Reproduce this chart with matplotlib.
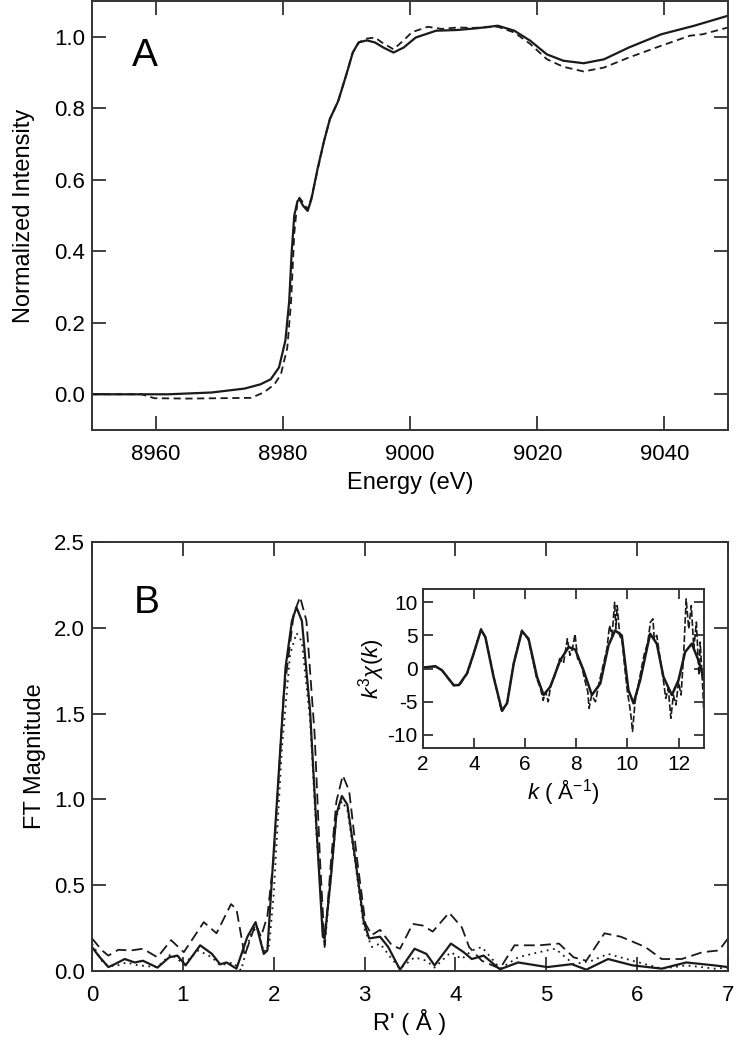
"""XANES edge (A) and EXAFS Fourier transform with k-space inset (B)."""

import matplotlib

matplotlib.use("Agg")
import matplotlib.pyplot as plt  # noqa: E402

plt.rcParams["font.family"] = ["Liberation Sans", "DejaVu Sans"]
plt.rcParams["mathtext.fontset"] = "custom"
plt.rcParams["mathtext.it"] = "Liberation Sans:italic"
plt.rcParams["mathtext.rm"] = "Liberation Sans"
plt.rcParams["axes.unicode_minus"] = False

# ---- panel A: normalized XANES ----
energy_solid = [8950, 8962, 8968.8, 8974, 8976.5, 8978.1, 8979.4, 8980.4, 8981, 8981.4,
                8981.8, 8982.3, 8982.6, 8983.2, 8983.9, 8984.5, 8985.5, 8986.5, 8987.4,
                8988.7, 8990, 8991, 8991.9, 8993.2, 8994.5, 8995.8, 8997.4, 8999, 9000.9,
                9004.1, 9007.4, 9010.6, 9013.8, 9016.4, 9018.9, 9021.5, 9024.1, 9027.3,
                9030.5, 9034.4, 9039.5, 9044.7, 9050]
int_solid = [0.0, 0.0, 0.005, 0.016, 0.028, 0.042, 0.075, 0.15, 0.26, 0.40,
             0.50, 0.54, 0.546, 0.527, 0.513, 0.546, 0.634, 0.71, 0.77,
             0.82, 0.895, 0.956, 0.984, 0.99, 0.984, 0.97, 0.956, 0.97, 0.998,
             1.017, 1.019, 1.024, 1.031, 1.017, 0.989, 0.951, 0.933, 0.926,
             0.937, 0.97, 1.007, 1.031, 1.059]

energy_dash = [8950, 8957.8, 8959.8, 8965, 8970, 8975, 8977, 8978.7, 8979.7, 8980.7,
               8981.3, 8981.8, 8982.3, 8982.6, 8983.2, 8983.9, 8984.5, 8985.5, 8986.5,
               8987.4, 8988.7, 8990, 8991, 8992, 8993.2, 8994.5, 8995.5, 8997.4, 8999,
               9000.3, 9002.8, 9005, 9007.4, 9010, 9013.8, 9016.4, 9018.9, 9021.5,
               9024.1, 9027.3, 9030.5, 9034.4, 9039.5, 9044, 9046, 9050]
int_dash = [0.0, 0.0, -0.011, -0.012, -0.011, -0.01, 0.005, 0.028, 0.056, 0.13,
            0.26, 0.45, 0.54, 0.55, 0.536, 0.517, 0.55, 0.63, 0.71,
            0.77, 0.82, 0.895, 0.956, 0.985, 0.995, 0.998, 0.985, 0.965, 0.99,
            1.013, 1.028, 1.022, 1.026, 1.025, 1.028, 1.012, 0.98, 0.9375,
            0.916, 0.903, 0.914, 0.942, 0.975, 1.003, 1.007, 1.026]

# ---- panel B: FT magnitude ----
r_solid = [0.0, 0.07, 0.18, 0.25, 0.36, 0.47, 0.56, 0.72, 0.85, 0.94, 1.03, 1.19, 1.32,
           1.41, 1.48, 1.59, 1.71, 1.80, 1.89, 1.93, 1.97, 2.04, 2.13, 2.20, 2.25, 2.31,
           2.40, 2.47, 2.54, 2.56, 2.63, 2.69, 2.75, 2.81, 2.90, 2.99, 3.05, 3.17, 3.26,
           3.39, 3.55, 3.68, 3.77, 3.95, 4.09, 4.18, 4.31, 4.49, 4.69, 5.01, 5.28, 5.44,
           5.68, 5.95, 6.27, 6.54, 6.85, 7.0]
ft_solid = [0.14, 0.09, 0.023, 0.04, 0.07, 0.05, 0.06, 0.02, 0.08, 0.09, 0.033, 0.15, 0.10,
            0.039, 0.05, 0.014, 0.20, 0.285, 0.10, 0.12, 0.45, 1.03, 1.77, 2.04, 2.12, 2.04,
            1.515, 0.84, 0.20, 0.19, 0.55, 0.915, 1.02, 0.97, 0.64, 0.29, 0.19, 0.20, 0.14,
            0.008, 0.13, 0.10, 0.033, 0.16, 0.11, 0.07, 0.09, 0.01, 0.05, 0.023, 0.04, 0.008,
            0.07, 0.033, 0.014, 0.05, 0.033, 0.023]

r_dash = [0.0, 0.11, 0.18, 0.29, 0.43, 0.56, 0.72, 0.87, 1.01, 1.23, 1.37, 1.53, 1.59, 1.68,
          1.80, 1.86, 1.93, 2.00, 2.11, 2.22, 2.29, 2.36, 2.45, 2.51, 2.56, 2.63, 2.69,
          2.76, 2.83, 2.92, 3.01, 3.08, 3.17, 3.30, 3.39, 3.53, 3.64, 3.75, 3.93, 4.07,
          4.15, 4.29, 4.49, 4.65, 4.92, 5.14, 5.30, 5.44, 5.64, 5.82, 6.09, 6.27, 6.49,
          6.72, 6.90, 7.0]
ft_dash = [0.19, 0.12, 0.09, 0.124, 0.12, 0.13, 0.08, 0.18, 0.11, 0.285, 0.22, 0.39, 0.36, 0.09,
           0.275, 0.20, 0.32, 0.66, 1.61, 2.08, 2.18, 2.04, 1.38, 0.64, 0.15, 0.64, 0.99,
           1.14, 1.05, 0.64, 0.275, 0.21, 0.24, 0.15, 0.13, 0.275, 0.265, 0.23, 0.34, 0.255,
           0.14, 0.06, 0.014, 0.15, 0.15, 0.16, 0.08, 0.06, 0.22, 0.20, 0.14, 0.07, 0.07,
           0.11, 0.12, 0.19]

r_dot = [0.0, 0.13, 0.25, 0.38, 0.51, 0.72, 0.87, 1.01, 1.17, 1.32, 1.41, 1.55, 1.64, 1.75,
         1.82, 1.89, 1.95, 2.00, 2.09, 2.18, 2.25, 2.31, 2.40, 2.47, 2.56, 2.63, 2.69,
         2.75, 2.81, 2.90, 2.99, 3.08, 3.17, 3.30, 3.39, 3.55, 3.68, 3.77, 3.95, 4.07,
         4.18, 4.29, 4.42, 4.49, 4.69, 4.92, 5.10, 5.30, 5.50, 5.68, 5.95, 6.27, 6.54,
         6.85, 7.0]
ft_dot = [0.16, 0.04, 0.027, 0.05, 0.033, 0.023, 0.10, 0.04, 0.12, 0.08, 0.033, 0.05, 0.004,
          0.22, 0.256, 0.11, 0.15, 0.45, 1.30, 1.845, 1.97, 1.92, 1.46, 0.80, 0.14, 0.55,
          0.90, 0.99, 0.94, 0.62, 0.256, 0.14, 0.16, 0.07, 0.014, 0.08, 0.06, 0.02, 0.11,
          0.07, 0.12, 0.14, 0.06, 0.014, 0.08, 0.11, 0.13, 0.04, 0.06, 0.10, 0.06, 0.014,
          0.033, 0.014, 0.02]

# ---- inset: k^3 chi(k) ----
k_solid = [2.0, 2.48, 2.74, 3.2, 3.4, 3.72, 3.98, 4.27, 4.44, 4.76, 5.09, 5.29, 5.55, 5.87,
           6.13, 6.46, 6.72, 6.98, 7.37, 7.7, 7.96, 8.28, 8.61, 8.94, 9.26, 9.52, 9.78,
           10.04, 10.24, 10.5, 10.89, 11.15, 11.41, 11.74, 12.0, 12.26, 12.52, 12.78, 13.0]
chi_solid = [0.15, 0.35, -0.25, -2.5, -2.5, -0.75, 2.25, 5.85, 4.75, -1.25, -6.35, -5.25, 0.75,
             5.65, 4.5, -1.25, -4.0, -2.75, 1.25, 3.25, 2.85, -0.25, -4.0, -2.25, 3.5, 5.75,
             5.0, -3.25, -5.25, -1.75, 5.25, 3.75, -1.25, -4.0, -1.75, 2.5, 3.75, 1.25, -1.75]

k_dash = [2.0, 2.5, 2.75, 3.2, 3.45, 3.75, 4.0, 4.27, 4.45, 4.78, 5.08, 5.3, 5.55, 5.87, 6.13,
          6.45, 6.6, 6.7, 6.8, 6.9, 7.0, 7.1, 7.2, 7.35, 7.5, 7.65, 7.75, 7.85, 7.95, 8.05,
          8.2, 8.35, 8.45, 8.5, 8.6, 8.75, 8.9, 9.05, 9.2, 9.3, 9.4, 9.5, 9.55, 9.6, 9.7,
          9.8, 9.9, 10.0, 10.1, 10.15, 10.2, 10.3, 10.4, 10.5, 10.65, 10.8, 10.9, 11.0,
          11.05, 11.15, 11.3, 11.4, 11.5, 11.6, 11.7, 11.8, 11.9, 12.0, 12.1, 12.2, 12.3,
          12.4, 12.5, 12.6, 12.7, 12.8, 12.85, 12.95, 13.0]
chi_dash = [0.2, 0.3, -0.3, -2.6, -2.4, -0.6, 2.4, 6.0, 4.6, -1.4, -6.6, -5.0, 0.9, 5.8, 4.3,
            -1.5, -3.0, -4.8, -3.5, -5.0, -2.5, -1.8, -0.5, 1.5, 0.8, 4.5, 2.0, 3.0, 5.2, 1.5,
            0.5, -2.0, -3.5, -6.0, -4.0, -5.0, -2.0, 0.5, 3.0, 6.5, 5.0, 10.0, 6.0, 9.5, 5.0,
            4.0, 0.0, -3.5, -6.0, -7.5, -9.5, -5.0, -3.0, -1.0, 2.0, 4.0, 7.0, 7.5,
            4.5, 5.0, 1.0, -1.5, -4.5, -3.0, -7.5, -4.0, -5.5, -2.0, -4.0, 2.0, 10.5,
            6.0, 9.5, 3.0, 7.0, -1.0, 4.0, -3.0, -7.5]

SPINE = "#333333"
LINE = "#1a1a1a"


def style_axes(ax, size, length=10, xpad=10, ypad=5):
    for s in ax.spines.values():
        s.set_color(SPINE)
        s.set_linewidth(1.4)
    ax.tick_params(direction="in", length=length, width=1.3, color=SPINE,
                   top=True, right=True, labelsize=size)
    ax.tick_params(axis="x", pad=xpad)
    ax.tick_params(axis="y", pad=ypad)


fig = plt.figure(figsize=(7.47, 10.42), dpi=100)

# panel A
axA = fig.add_axes([0.1232, 0.5873, 0.8514, 0.4117])
axA.plot(energy_solid, int_solid, color=LINE, lw=1.6)
axA.plot(energy_dash, int_dash, color=LINE, lw=1.3, ls=(0, (4, 2.5)))
axA.set_xlim(8950, 9050)
axA.set_ylim(-0.1, 1.1)
axA.set_xticks([8960, 8980, 9000, 9020, 9040])
axA.set_yticks([0.0, 0.2, 0.4, 0.6, 0.8, 1.0])
axA.yaxis.set_major_formatter(matplotlib.ticker.FormatStrFormatter("%.1f"))
style_axes(axA, 16)
axA.set_xlabel("Energy (eV)", fontsize=17, labelpad=5)
axA.set_ylabel("Normalized Intensity", fontsize=17, labelpad=14)
axA.text(0.063, 0.849, "A", transform=axA.transAxes, fontsize=28)

# panel B
axB = fig.add_axes([0.1232, 0.0681, 0.8514, 0.4117])
axB.plot(r_solid, ft_solid, color=LINE, lw=1.6)
axB.plot(r_dash, ft_dash, color=LINE, lw=1.3, ls=(0, (6, 3)))
axB.plot(r_dot, ft_dot, color=LINE, lw=1.3, ls=(0, (1, 2.5)))
axB.set_xlim(0, 7)
axB.set_ylim(0, 2.5)
axB.set_xticks(range(0, 8))
axB.set_yticks([0.0, 0.5, 1.0, 1.5, 2.0, 2.5])
axB.yaxis.set_major_formatter(matplotlib.ticker.FormatStrFormatter("%.1f"))
style_axes(axB, 16)
axB.set_xlabel("R' ( Å )", fontsize=17, labelpad=2)
axB.set_ylabel("FT Magnitude", fontsize=17, labelpad=6)
axB.text(0.065, 0.834, "B", transform=axB.transAxes, fontsize=28)

# inset
axI = fig.add_axes([0.5663, 0.2821, 0.3762, 0.1526])
axI.plot(k_dash, chi_dash, color=LINE, lw=1.2, ls=(0, (4, 1.5)))
axI.plot(k_solid, chi_solid, color=LINE, lw=1.8)
axI.set_xlim(2, 13)
axI.set_ylim(-12, 12)
axI.set_xticks([2, 4, 6, 8, 10, 12])
axI.set_yticks([-10, -5, 0, 5, 10])
style_axes(axI, 15, length=7, xpad=5, ypad=4)
axI.set_xlabel(r"$k$ ( Å$^{-1}$)", fontsize=16, labelpad=2)
axI.set_ylabel(r"$k^3\chi(k)$", fontsize=16, labelpad=0)

fig.savefig("out.png", dpi=100)
